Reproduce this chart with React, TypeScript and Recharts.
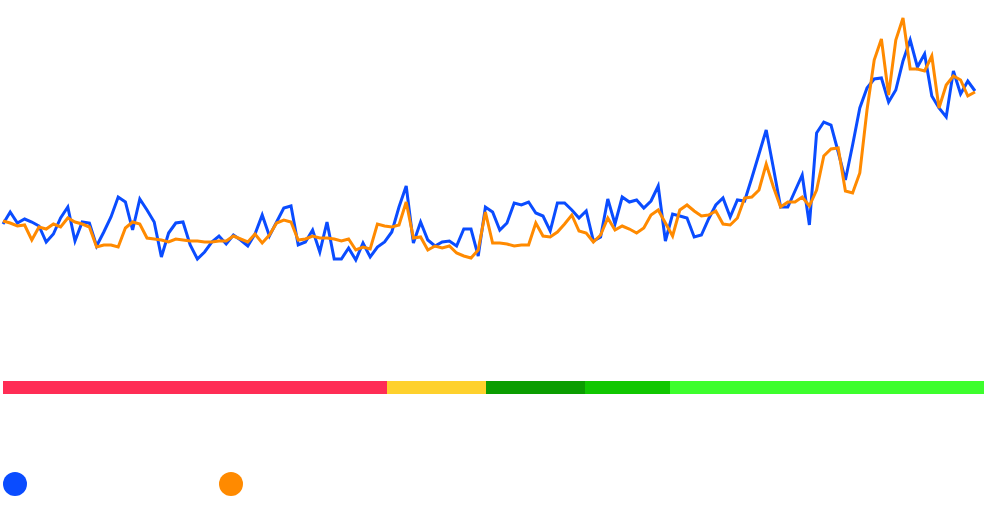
import { LineChart, Line, XAxis, YAxis, BarChart, Bar } from "recharts"

// values, one per step
const seriesA = [
  76, 88, 77, 81, 78, 74, 58, 66, 82, 93, 59, 78, 77, 54, 68, 83, 103, 98, 70, 101,
  90, 78, 43, 67, 77, 78, 55, 41, 48, 58, 64, 56, 65, 60, 54, 66, 85, 64, 78, 92,
  94, 55, 58, 70, 48, 78, 41, 41, 52, 40, 57, 43, 53, 58, 68, 93, 114, 57, 78, 60,
  54, 58, 59, 54, 71, 71, 44, 93, 88, 70, 77, 97, 95, 98, 87, 84, 69, 97, 97, 90,
  82, 89, 59, 63, 101, 76, 103, 98, 100, 92, 99, 114, 59, 86, 84, 82, 63, 65, 81, 95,
  102, 83, 100, 99, 122, 146, 170, 132, 93, 93, 109, 125, 75, 167, 178, 175, 148, 120, 155, 192,
  212, 221, 222, 198, 210, 239, 260, 233, 246, 204, 192, 183, 229, 206, 219, 209,
]

const seriesB = [
  79, 77, 74, 75, 60, 73, 71, 76, 73, 82, 78, 76, 73, 53, 55, 55, 53, 72, 78, 76,
  62, 61, 60, 58, 61, 60, 59, 59, 58, 58, 59, 59, 64, 61, 58, 66, 57, 65, 77, 80,
  78, 60, 61, 64, 62, 62, 61, 59, 61, 50, 53, 51, 76, 74, 73, 75, 98, 62, 63, 50,
  54, 52, 54, 47, 44, 42, 50, 88, 57, 57, 56, 54, 55, 55, 77, 64, 63, 68, 76, 85,
  69, 67, 58, 65, 82, 70, 74, 71, 67, 72, 85, 90, 77, 64, 90, 95, 89, 84, 85, 89,
  76, 75, 82, 102, 103, 110, 136, 113, 93, 98, 98, 103, 94, 110, 144, 151, 152, 109, 107, 127,
  190, 240, 261, 205, 260, 282, 231, 231, 229, 244, 192, 215, 224, 220, 204, 208,
]

const series = [
  { key: "a", name: "Series A", color: "#0a4cff" },
  { key: "b", name: "Series B", color: "#ff8a00" },
]

const zoneWidths = [384, 99, 99, 85, 314]
const zoneColors = ["#ff2d55", "#fed12d", "#0b9d01", "#11c701", "#3dfe2d"]

const data = seriesA.map((a, i) => ({ i, a, b: seriesB[i] }))

const zoneRow: Record<string, string | number> = { name: "zones" }
zoneWidths.forEach((w, k) => { zoneRow[`z${k}`] = w })
const zoneTotal = zoneWidths.reduce((s, w) => s + w, 0)

export default function App() {
  return (
    <div style={{ position: "absolute", left: 0, top: 0, width: 985, height: 506, background: "#fff" }}>
      <LineChart width={985} height={300} data={data} margin={{ top: 0, right: 10, bottom: 0, left: 3 }}>
        <XAxis dataKey="i" type="number" domain={[0, data.length - 1]} hide />
        <YAxis domain={[0, 300]} hide />
        {series.map(s => (
          <Line
            key={s.key}
            dataKey={s.key}
            name={s.name}
            stroke={s.color}
            strokeWidth={3}
            dot={false}
            type="linear"
            isAnimationActive={false}
          />
        ))}
      </LineChart>

      <div style={{ position: "absolute", left: 0, top: 381 }}>
        <BarChart
          width={985}
          height={13}
          data={[zoneRow]}
          layout="vertical"
          margin={{ top: 0, right: 1, bottom: 0, left: 3 }}
          barCategoryGap={0}
        >
          <XAxis type="number" domain={[0, zoneTotal]} hide />
          <YAxis type="category" dataKey="name" hide />
          {zoneWidths.map((_, k) => (
            <Bar key={k} dataKey={`z${k}`} stackId="z" fill={zoneColors[k]} isAnimationActive={false} />
          ))}
        </BarChart>
      </div>

      <div style={{ position: "absolute", left: 3, top: 472, display: "flex" }}>
        {series.map(s => (
          <div key={s.key} style={{ width: 216 }}>
            <div style={{ width: 24, height: 24, borderRadius: "50%", background: s.color }} />
          </div>
        ))}
      </div>
    </div>
  )
}
